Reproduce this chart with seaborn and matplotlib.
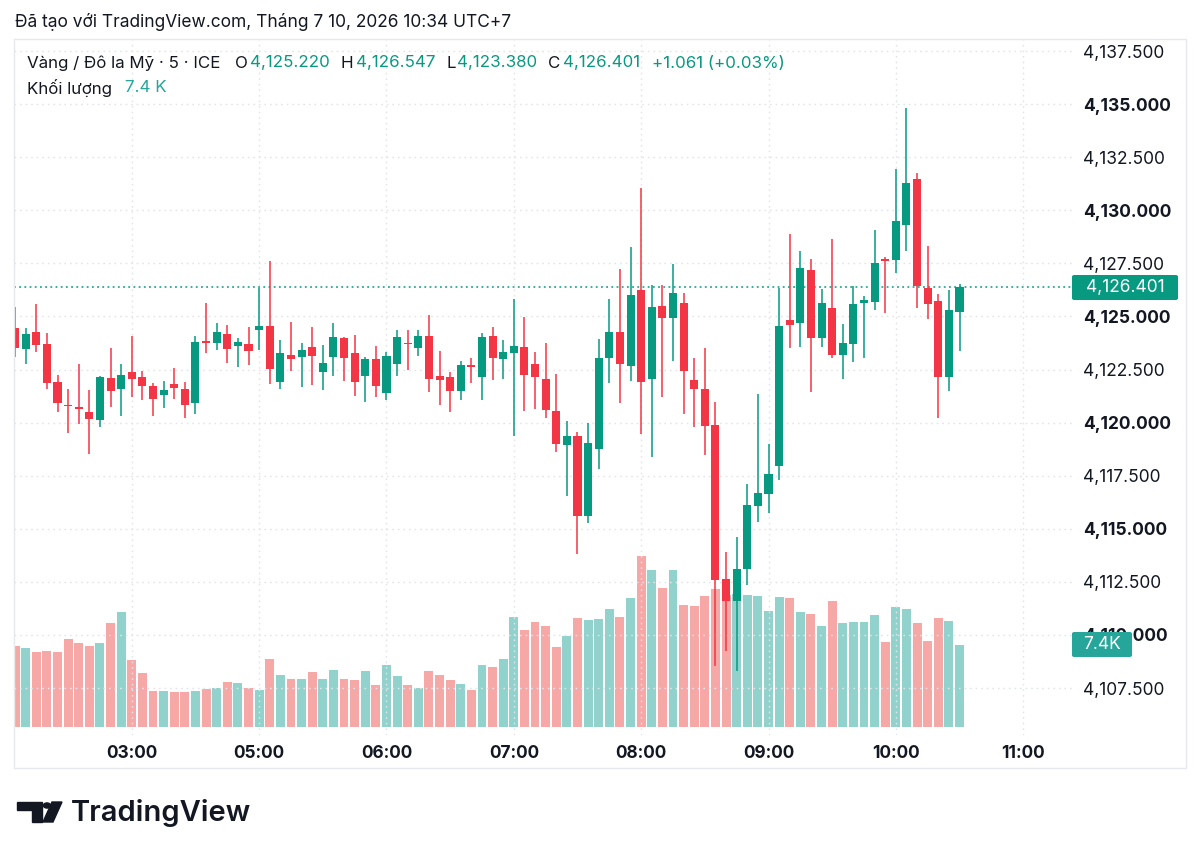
import numpy as np
import pandas as pd
import matplotlib
matplotlib.use("Agg")
import matplotlib.pyplot as plt
from matplotlib.patches import FancyBboxPatch, Rectangle, Polygon, Circle
import seaborn as sns

## 5-minute bars, 02:05 -> 10:30 (session break 04:00-05:00)
opens = [4124.44, 4123.45, 4124.27, 4123.70, 4121.90, 4120.83, 4120.74, 4120.52, 4120.13, 4122.12,
         4121.57, 4122.39, 4122.17, 4121.73, 4121.29, 4121.81, 4121.59, 4120.91, 4123.85, 4123.74,
         4124.16, 4123.59, 4123.70, 4124.36, 4124.55, 4121.90, 4123.19, 4123.08, 4123.55, 4122.39,
         4123.08, 4124.00, 4123.30, 4122.21, 4122.98, 4121.38, 4122.76, 4123.72, 4123.53, 4124.08,
         4122.21, 4122.17, 4121.51, 4122.70, 4122.14, 4124.10, 4123.00, 4123.30, 4123.56, 4122.75,
         4122.07, 4120.57, 4118.95, 4119.39, 4115.62, 4118.78, 4123.03, 4124.25, 4122.67, 4126.25,
         4122.06, 4125.51, 4124.91, 4125.65, 4122.01, 4121.57, 4119.89, 4112.65, 4111.58, 4113.09,
         4116.07, 4116.64, 4117.97, 4124.84, 4124.68, 4127.19, 4123.97, 4125.42, 4123.19, 4123.69,
         4125.62, 4125.70, 4127.71, 4127.66, 4129.31, 4131.46, 4126.34, 4125.75, 4122.17, 4125.220]
highs = [4125.46, 4124.47, 4125.59, 4124.24, 4122.26, 4121.57, 4122.76, 4121.54, 4122.20, 4123.50,
         4122.75, 4124.07, 4122.43, 4121.85, 4121.95, 4122.57, 4121.90, 4124.08, 4125.64, 4124.68,
         4124.58, 4123.97, 4124.52, 4126.33, 4127.63, 4123.89, 4124.73, 4123.75, 4124.49, 4123.67,
         4124.68, 4124.02, 4124.11, 4123.08, 4123.61, 4123.31, 4124.36, 4124.36, 4124.36, 4125.05,
         4123.38, 4122.40, 4122.92, 4123.03, 4124.21, 4124.52, 4123.89, 4125.81, 4124.99, 4123.33,
         4123.74, 4122.29, 4120.08, 4119.58, 4120.00, 4123.92, 4125.82, 4127.22, 4128.29, 4131.04,
         4126.48, 4126.48, 4127.46, 4126.12, 4123.05, 4123.51, 4120.96, 4113.89, 4114.60, 4117.10,
         4121.33, 4118.99, 4126.33, 4128.89, 4128.08, 4127.69, 4126.30, 4128.64, 4124.63, 4126.45,
         4125.97, 4129.07, 4127.79, 4131.93, 4134.80, 4131.74, 4128.30, 4126.06, 4126.25, 4126.547]
lows = [4123.08, 4122.76, 4123.34, 4121.57, 4120.52, 4119.50, 4119.95, 4118.52, 4119.81, 4120.75,
        4120.33, 4121.22, 4121.05, 4120.33, 4120.67, 4121.13, 4120.20, 4120.41, 4123.27, 4123.42,
        4122.83, 4122.64, 4122.72, 4123.42, 4121.82, 4121.59, 4122.45, 4121.70, 4121.77, 4121.54,
        4122.21, 4121.98, 4121.27, 4120.99, 4121.22, 4121.07, 4122.21, 4122.48, 4123.16, 4121.46,
        4120.83, 4120.49, 4121.07, 4121.85, 4121.07, 4122.01, 4122.06, 4119.39, 4120.57, 4120.66,
        4120.24, 4118.63, 4116.55, 4113.81, 4115.29, 4117.80, 4121.85, 4120.91, 4121.98, 4119.45,
        4118.37, 4121.23, 4122.89, 4120.43, 4119.78, 4118.49, 4108.56, 4109.26, 4108.32, 4112.35,
        4115.34, 4115.73, 4117.30, 4123.50, 4123.58, 4121.46, 4123.55, 4123.03, 4122.04, 4122.87,
        4123.03, 4125.31, 4125.15, 4127.07, 4128.07, 4125.38, 4124.90, 4120.24, 4121.51, 4123.380]
closes = [4123.53, 4124.19, 4123.66, 4121.85, 4120.91, 4120.77, 4120.64, 4120.16, 4122.13, 4121.51,
          4122.26, 4122.07, 4121.74, 4121.13, 4121.54, 4121.62, 4120.85, 4123.81, 4123.74, 4124.27,
          4123.48, 4123.78, 4123.39, 4124.55, 4122.53, 4123.30, 4123.00, 4123.41, 4123.12, 4122.79,
          4124.02, 4123.04, 4121.93, 4122.98, 4121.73, 4123.12, 4124.02, 4123.70, 4124.08, 4122.07,
          4121.99, 4121.49, 4122.70, 4122.62, 4124.05, 4123.03, 4123.31, 4123.61, 4122.23, 4122.13,
          4120.58, 4118.98, 4119.39, 4115.62, 4119.06, 4123.03, 4124.25, 4122.76, 4126.03, 4121.93,
          4125.46, 4124.95, 4126.09, 4122.41, 4121.59, 4119.84, 4112.59, 4111.62, 4113.12, 4116.12,
          4116.67, 4117.58, 4124.55, 4124.60, 4127.28, 4123.97, 4125.62, 4123.20, 4123.77, 4125.59,
          4125.79, 4127.54, 4127.63, 4129.50, 4131.30, 4126.44, 4125.60, 4122.15, 4125.31, 4126.401]
# volume in thousands
volume_k = [7.31, 7.10, 6.73, 6.88, 6.73, 7.94, 7.61, 7.31, 7.61, 9.42,
            10.42, 6.01, 4.83, 3.26, 3.26, 3.14, 3.14, 3.26, 3.41, 3.50,
            4.02, 3.93, 3.50, 3.35, 6.10, 4.68, 4.35, 4.35, 4.95, 4.29,
            5.13, 4.35, 4.20, 5.07, 3.74, 5.59, 4.56, 3.80, 3.50, 5.01,
            4.68, 4.20, 3.86, 3.32, 5.56, 5.40, 6.13, 9.93, 8.76, 9.48,
            9.09, 7.22, 8.21, 9.87, 9.63, 9.72, 10.66, 9.93, 11.68, 15.49,
            14.19, 12.59, 14.16, 10.99, 10.93, 11.82, 12.48, 11.90, 12.00, 11.93,
            11.87, 10.48, 11.73, 11.62, 10.36, 10.21, 9.15, 11.41, 9.39, 9.48,
            9.48, 10.14, 7.67, 10.87, 10.66, 9.36, 7.76, 9.81, 9.54, 7.40]

time_tick_bars = [11, 23, 35, 47, 59, 71, 83, 95]
time_tick_labels = ["03:00", "05:00", "06:00", "07:00", "08:00", "09:00", "10:00", "11:00"]
price_ticks = [4107.5, 4110.0, 4112.5, 4115.0, 4117.5, 4120.0, 4122.5, 4125.0,
               4127.5, 4130.0, 4132.5, 4135.0, 4137.5]

last_price = 4126.401
UP = "#089981"
DOWN = "#F23645"
TEXT = "#131722"
GRID = "#e1e4ea"

df = pd.DataFrame({"bar": np.arange(len(opens)), "open": opens, "high": highs,
                   "low": lows, "close": closes, "vol": volume_k})
df["dir"] = np.where(df["close"] >= df["open"], "up", "down")

sns.set_theme(style="white")
plt.rcParams["font.family"] = ["Inter", "DejaVu Sans"]

W, H = 1200, 857
fig = plt.figure(figsize=(W / 100, H / 100), dpi=100)
fig.patch.set_facecolor("white")

def fx(x):
    return x / W

def fy(y):
    return 1 - y / H

# pane in pixels: x 14..1072, y 40..735
rect = [fx(14), fy(735), fx(1072) - fx(14), fy(40) - fy(735)]
ax_vol = fig.add_axes(rect)
ax = fig.add_axes(rect)
ax.patch.set_visible(False)

## volume bars (bottom layer)
sns.barplot(data=df, x="bar", y="vol", hue="dir", palette={"up": "#26A69A", "down": "#EF5350"},
            native_scale=True, dodge=False, width=0.84, alpha=0.5, saturation=1,
            errorbar=None, legend=False, ax=ax_vol, linewidth=0)
ax_vol.set_ylim(-0.75, 62.2)
ax_vol.set_xlim(-0.1, 99.6)
ax_vol.axis("off")

## candles
colors = np.where(df["dir"] == "up", UP, DOWN)
ax.vlines(df["bar"], df["low"], df["high"], colors=colors, linewidth=1.1, zorder=2)
body_lo = np.minimum(df["open"], df["close"])
body_h = np.maximum((df["close"] - df["open"]).abs(), 0.06)
ax.bar(df["bar"], body_h, bottom=body_lo, width=0.76, color=colors, linewidth=0, zorder=3)

ax.set_xlim(-0.1, 99.6)
ax.set_ylim(4105.29, 4138.02)

# grid
dot = (0, (1.2, 2.8))
for p in price_ticks:
    ax.axhline(p, color=GRID, linestyle=dot, linewidth=1, zorder=0)
for b in time_tick_bars:
    ax.axvline(b, color=GRID, linestyle=dot, linewidth=1, zorder=0)
ax.axhline(last_price, color=UP, linestyle=(0, (1.2, 2.2)), linewidth=1.1, zorder=1)

for s in ax.spines.values():
    s.set_visible(False)

ax.set_xticks(time_tick_bars)
ax.set_xticklabels(time_tick_labels, fontsize=12.4, fontweight="bold", color=TEXT)
ax.tick_params(axis="x", length=0, pad=7)

ax.yaxis.tick_right()
ax.set_yticks(price_ticks)
ax.set_yticklabels([f"{p:,.3f}" for p in price_ticks], fontsize=12.5, color=TEXT)
ax.tick_params(axis="y", length=0, pad=8)
for p, lab in zip(price_ticks, ax.get_yticklabels()):
    if p % 5 == 0:
        lab.set_fontweight("bold")

## frame around chart
fig.patches.append(Rectangle((fx(14), fy(768)), fx(1186) - fx(14), fy(39) - fy(768),
                             transform=fig.transFigure, fill=False, edgecolor="#e6e8ee",
                             linewidth=1, zorder=0))

## price label and volume label on the scale
fig.patches.append(FancyBboxPatch((fx(1072), fy(300)), fx(1178) - fx(1072), fy(275) - fy(300),
                                  boxstyle="round,pad=0,rounding_size=0.002",
                                  transform=fig.transFigure, facecolor=UP, edgecolor="none", zorder=5))
fig.text(fx(1125), fy(287.5), f"{last_price:,.3f}", color="white", fontsize=12.5,
         ha="center", va="center", zorder=6)
fig.patches.append(FancyBboxPatch((fx(1072), fy(657)), fx(1132) - fx(1072), fy(632) - fy(657),
                                  boxstyle="round,pad=0,rounding_size=0.002",
                                  transform=fig.transFigure, facecolor="#26A69A", edgecolor="none", zorder=5))
fig.text(fx(1102), fy(644.5), f"{volume_k[-1]:.1f}K", color="white", fontsize=12.5,
         ha="center", va="center", zorder=6)

## header texts
fig.text(fx(15), fy(22), "Đã tạo với TradingView.com, Tháng 7 10, 2026 10:34 UTC+7",
         fontsize=12.5, color=TEXT, va="center")
legend_row = [(27, "Vàng / Đô la Mỹ · 5 · ICE", TEXT), (235, "O", TEXT), (250, f"{opens[-1]:,.3f}", UP),
              (340, "H", TEXT), (356, f"{highs[-1]:,.3f}", UP), (446, "L", TEXT),
              (457, f"{lows[-1]:,.3f}", UP), (548, "C", TEXT), (563, f"{closes[-1]:,.3f}", UP),
              (652, "+1.061 (+0.03%)", UP)]
for x, s, c in legend_row:
    fig.text(fx(x), fy(63), s, fontsize=12.2, color=c, va="center")
fig.text(fx(27), fy(88), "Khối lượng", fontsize=12.2, color=TEXT, va="center")
fig.text(fx(125), fy(88), "7.4 K", fontsize=12.2, color="#26A69A", va="center")

## TradingView logo
logo = "#131722"
fig.patches.append(Polygon([(fx(17), fy(802)), (fx(41.5), fy(802)), (fx(41.5), fy(822)),
                            (fx(31.5), fy(822)), (fx(31.5), fy(810)), (fx(17), fy(810))],
                           closed=True, transform=fig.transFigure, color=logo, zorder=3))
fig.patches.append(Circle((fx(47), fy(805.5)), 3.6 / W, transform=fig.transFigure, color=logo, zorder=3))
fig.patches.append(Polygon([(fx(52), fy(802)), (fx(62), fy(802)), (fx(53), fy(822)), (fx(43), fy(822))],
                           closed=True, transform=fig.transFigure, color=logo, zorder=3))
fig.text(fx(71), fy(813), "TradingView", fontsize=21, fontweight="semibold", color=logo, va="center")

fig.savefig("out.png", dpi=100, facecolor="white")
